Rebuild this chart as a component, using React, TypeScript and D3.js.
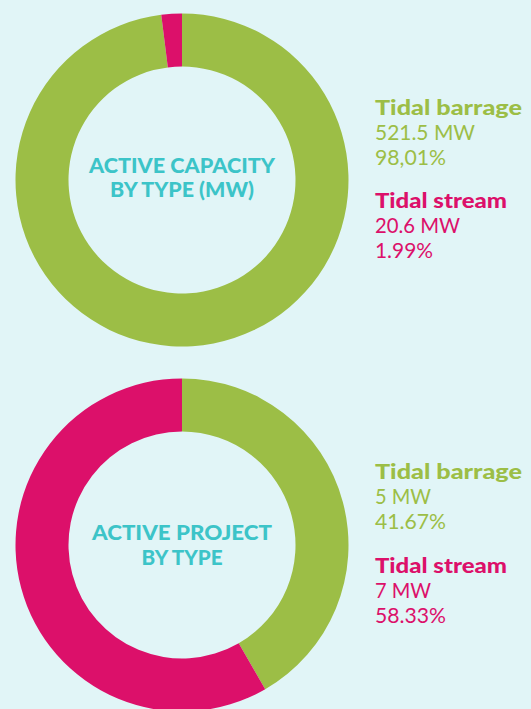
import React from "react";
import * as d3 from "d3";

const categories = ["Tidal barrage", "Tidal stream"];
const capacityShares = [98.01, 1.99];
const capacityValueLabels = ["521.5 MW", "20.6 MW"];
const capacityShareLabels = ["98,01%", "1.99%"];
const projectShares = [41.67, 58.33];
const projectValueLabels = ["5 MW", "7 MW"];
const projectShareLabels = ["41.67%", "58.33%"];
const capacityTitle = ["ACTIVE CAPACITY", "BY TYPE (MW)"];
const projectTitle = ["ACTIVE PROJECT", "BY TYPE"];

const W = 531;
const H = 709;
const BG = "#e1f5f7";
const colors = ["#9cbe46", "#dc106a"];
const TEAL = "#3cc4c8";
const FONT = "Lato, 'Open Sans', sans-serif";

type DonutProps = {
  cx: number;
  cy: number;
  shares: number[];
  title: string[];
  titleY: number[];
  titleW: number[];
  valueLabels: string[];
  shareLabels: string[];
  valueW: number[][];
  nameW: number[];
  legendY: number[][];
};

function Donut(p: DonutProps) {
  const pie = d3
    .pie<number>()
    .sort(null)
    .value((d) => d)
    .startAngle(0)
    .endAngle(2 * Math.PI);
  const arc = d3.arc<d3.PieArcDatum<number>>().innerRadius(113.5).outerRadius(166.5);
  const arcs = pie(p.shares);
  const lx = 375;
  return (
    <g>
      <g transform={`translate(${p.cx},${p.cy})`}>
        {arcs.map((a, i) => (
          <path key={i} d={arc(a) || ""} fill={colors[i]} />
        ))}
      </g>
      {p.title.map((t, i) => (
        <text
          key={t}
          x={p.cx}
          y={p.titleY[i]}
          textAnchor="middle"
          fill={TEAL}
          fontFamily={FONT}
          fontWeight={900}
          fontSize={20.5}
          textLength={p.titleW[i]}
          lengthAdjust="spacingAndGlyphs"
        >
          {t}
        </text>
      ))}
      {categories.map((c, i) => (
        <g key={c} fill={colors[i]} fontFamily={FONT}>
          <text
            x={lx}
            y={p.legendY[i][0]}
            fontWeight={900}
            fontSize={21}
            textLength={p.nameW[i]}
            lengthAdjust="spacingAndGlyphs"
          >
            {c}
          </text>
          <text
            x={lx}
            y={p.legendY[i][1]}
            fontWeight={400}
            fontSize={21.5}
            textLength={p.valueW[i][0]}
            lengthAdjust="spacingAndGlyphs"
          >
            {p.valueLabels[i]}
          </text>
          <text
            x={lx}
            y={p.legendY[i][2]}
            fontWeight={400}
            fontSize={21.5}
            textLength={p.valueW[i][1]}
            lengthAdjust="spacingAndGlyphs"
          >
            {p.shareLabels[i]}
          </text>
        </g>
      ))}
    </g>
  );
}

export default function App() {
  return (
    <svg
      width={W}
      height={H}
      style={{ position: "absolute", left: 0, top: 0, display: "block" }}
    >
      <rect width={W} height={H} fill={BG} />
      <Donut
        cx={182}
        cy={180}
        shares={capacityShares}
        title={capacityTitle}
        titleY={[173, 197]}
        titleW={[186, 144]}
        valueLabels={capacityValueLabels}
        shareLabels={capacityShareLabels}
        nameW={[147, 132]}
        valueW={[
          [100, 71],
          [85, 58],
        ]}
        legendY={[
          [115, 140, 165],
          [208, 233, 258],
        ]}
      />
      <Donut
        cx={182}
        cy={545}
        shares={projectShares}
        title={projectTitle}
        titleY={[540, 565]}
        titleW={[180, 81]}
        valueLabels={projectValueLabels}
        shareLabels={projectShareLabels}
        nameW={[147, 132]}
        valueW={[
          [56, 71],
          [56, 71],
        ]}
        legendY={[
          [479, 504, 529],
          [573, 598, 623],
        ]}
      />
    </svg>
  );
}
